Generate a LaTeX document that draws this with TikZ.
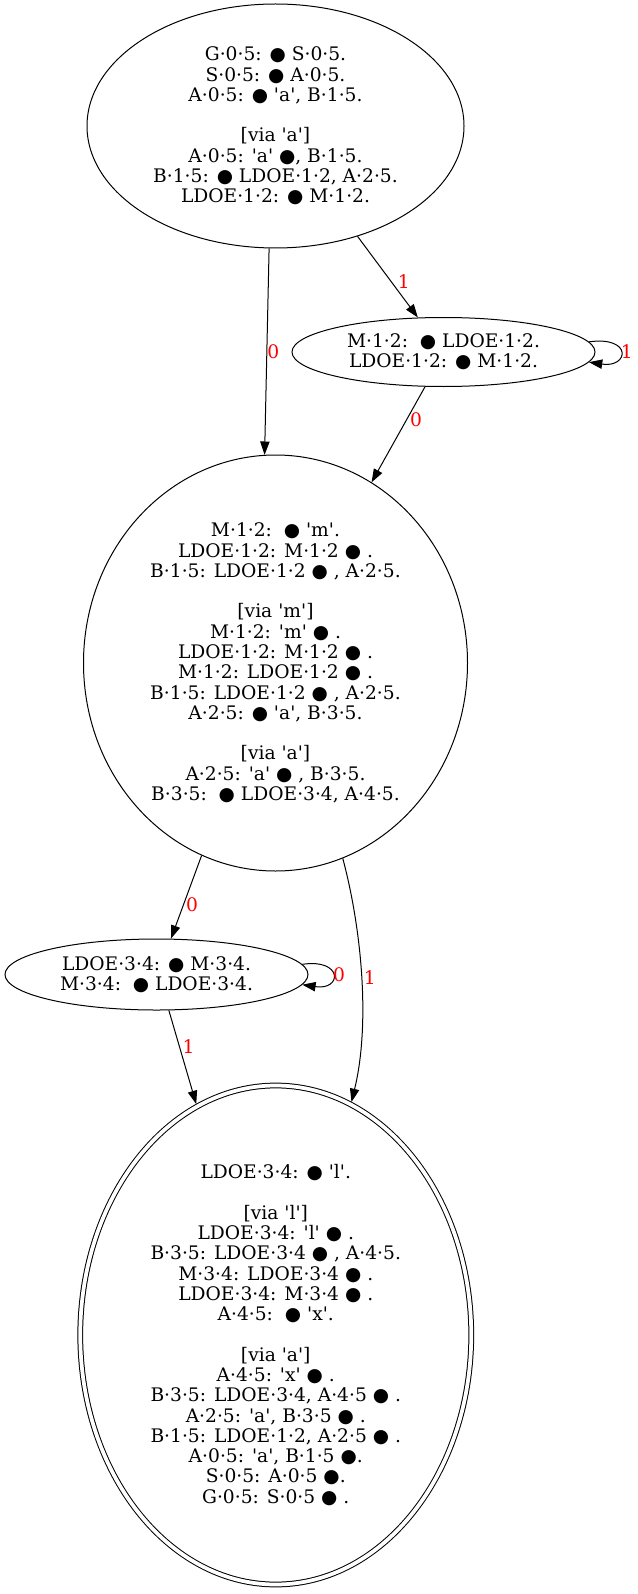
\documentclass[tikz,border=0pt]{standalone}
\usepackage{fontspec}
\usetikzlibrary{arrows.meta, positioning, shapes.geometric}
\newfontfamily\gvfont{DejaVu Serif}
\newfontfamily\gvsym{DejaVu Sans}
\newcommand{\bl}{{\gvsym ●}}

\begin{document}
\begin{tikzpicture}[
		x=0.75pt, y=-0.75pt,
		st/.style={draw, ellipse, inner sep=0pt, line width=0.75pt, align=center, font=\gvfont\fontsize{14}{15.2}\selectfont},
		fin/.style={st, double, double distance=2.8pt, outer sep=2pt},
		arr/.style={-{Triangle[length=10pt, width=7pt]}, line width=0.75pt},
		lbl/.style={text=red, inner sep=0pt, font=\gvfont\fontsize{14}{15.2}\selectfont}
		]
		\useasboundingbox (0,0) rectangle (638,1594);
		\node[st, minimum width=282.75pt, minimum height=183pt] (s0) at (275.5,126) {G·0·5: \bl{} S·0·5.\\ S·0·5: \bl{} A·0·5.\\ A·0·5: \bl{} 'a', B·1·5.\\[15.2pt] [via 'a']\\ A·0·5: 'a' \bl, B·1·5.\\ B·1·5: \bl{} LDOE·1·2, A·2·5.\\ LDOE·1·2: \bl{} M·1·2.};
		\node[st, minimum width=227.25pt, minimum height=51.75pt] (s1) at (443.5,352) {M·1·2:\ \ \bl{} LDOE·1·2.\\ LDOE·1·2: \bl{} M·1·2.};
		\node[st, minimum width=288pt, minimum height=312pt] (s2) at (275.5,663) {M·1·2:\ \ \bl{} 'm'.\\ LDOE·1·2: M·1·2 \bl{} .\\ B·1·5: LDOE·1·2 \bl{} , A·2·5.\\[15.2pt] [via 'm']\\ M·1·2: 'm' \bl{} .\\ LDOE·1·2: M·1·2 \bl{} .\\ M·1·2: LDOE·1·2 \bl{} .\\ B·1·5: LDOE·1·2 \bl{} , A·2·5.\\ A·2·5: \bl{} 'a', B·3·5.\\[15.2pt] [via 'a']\\ A·2·5: 'a' \bl{} , B·3·5.\\ B·3·5:\ \ \bl{} LDOE·3·4, A·4·5.};
		\node[st, minimum width=227.25pt, minimum height=53.25pt] (s3) at (156.5,974.5) {LDOE·3·4: \bl{} M·3·4.\\ M·3·4:\ \ \bl{} LDOE·3·4.};
		\node[fin, minimum width=293.25pt, minimum height=374.25pt] (s4) at (275.75,1335) {LDOE·3·4: \bl{} 'l'.\\[15.2pt] [via 'l']\\ LDOE·3·4: 'l' \bl{} .\\ B·3·5: LDOE·3·4 \bl{} , A·4·5.\\ M·3·4: LDOE·3·4 \bl{} .\\ LDOE·3·4: M·3·4 \bl{} .\\ A·4·5:\ \ \bl{} 'x'.\\[15.2pt] [via 'a']\\ A·4·5: 'x' \bl{} .\\ B·3·5: LDOE·3·4, A·4·5 \bl{} .\\ A·2·5: 'a', B·3·5 \bl{} .\\ B·1·5: LDOE·1·2, A·2·5 \bl{} .\\ A·0·5: 'a', B·1·5 \bl.\\ S·0·5: A·0·5 \bl.\\ G·0·5: S·0·5 \bl{} .};

		\draw[arr] (s0.-93) -- node[lbl, right, pos=0.5] {0} (s2.93);
		\draw[arr] (s0) -- node[lbl, right=4.5pt, pos=0.56] {1} (s1);
		\draw[arr] (s1.4) .. controls +(44,-6) and +(40,6) .. node[lbl, right, pos=0.5] {1} (s1.-4);
		\draw[arr] (s1.-118) -- node[lbl, right=2pt, pos=0.34] {0} (s2.62);
		\draw[arr] (s2.-111) -- node[lbl, right=1.5pt, pos=0.59] {0} (s3.68);
		\draw[arr] (s2.-71) .. controls +(19,71) and +(19,-78) .. node[lbl, right=1.5pt, pos=0.5] {1} (s4.72);
		\draw[arr] (s3.4) .. controls +(41,-6) and +(40,6) .. node[lbl, right, pos=0.5] {0} (s3.-4);
		\draw[arr] (s3.-71) -- node[lbl, right=2pt, pos=0.39] {1} (s4.109);
	\end{tikzpicture}
\end{document}
